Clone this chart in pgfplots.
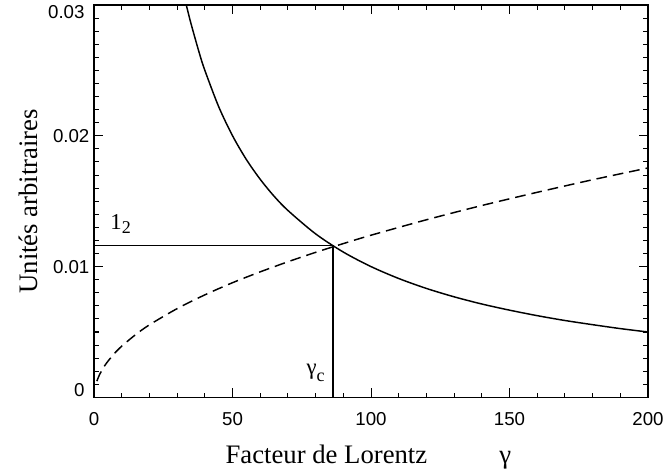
\documentclass[border=0pt]{standalone}
\usepackage{fontspec}
\setmainfont{Liberation Serif}
\newfontfamily\ticksfont{Liberation Sans}
\usepackage{pgfplots}
\pgfplotsset{compat=1.18}

% main glyph, subscript, drop of the subscript
\newcommand{\annot}[3]{\fontsize{17}{17}\selectfont #1\raisebox{-#3}{\fontsize{13.5}{13.5}\selectfont #2}}

\begin{document}
\begin{tikzpicture}
\begin{axis}[
    name=ax,
    scale only axis,
    width=415pt, height=294pt,
    xmin=0, xmax=200, ymin=0, ymax=0.03,
    xtick={0,50,100,150,200},
    minor x tick num=4,
    ytick={0,0.01,0.02,0.03},
    yticklabels={,0.01,0.02,},
    minor y tick num=9,
    scaled y ticks=false,
    tick align=inside,
    tick pos=both,
    major tick length=7pt,
    minor tick length=3.5pt,
    tick style={black, line width=0.8pt},
    axis line style={line width=1.3pt},
    /pgf/number format/assume math mode=true,
    tick label style={font=\ticksfont\fontsize{14}{14}\selectfont},
    xticklabel style={yshift=-7.5pt},
    xlabel={Facteur de Lorentz\hspace{2.7em}γ},
    ylabel={Unités arbitraires},
    label style={font=\fontsize{20}{20}\selectfont},
    xlabel style={yshift=-7.5pt, xshift=-2pt},
    ylabel style={yshift=4.7pt},
    clip=false,
]
% solid: decreasing curve
\addplot[black, line width=1.1pt, smooth] coordinates {
(33.3,0.0300) (35,0.02857) (38,0.02632) (40,0.0250) (45,0.02222)
(50,0.0200) (55,0.01818) (60,0.01667) (65,0.01538) (70,0.01429)
(80,0.0125) (90,0.01111) (100,0.0100) (110,0.00909) (120,0.00833)
(130,0.00769) (140,0.00714) (150,0.00667) (160,0.00625) (170,0.00588)
(180,0.00556) (190,0.00526) (200,0.0050)
};
% dashed: rising curve
\addplot[black, line width=1.1pt, dash pattern=on 8pt off 4.5pt, smooth] coordinates {
(1,0.00124) (2,0.00175) (4,0.00248) (7,0.00328) (10,0.00392) (15,0.00480)
(20,0.00555) (30,0.00679) (40,0.00784) (50,0.00877) (60,0.00960)
(70,0.01037) (80,0.01109) (90,0.01176) (100,0.01240) (120,0.01358)
(140,0.01467) (160,0.01568) (180,0.01664) (200,0.01754)
};
% guide lines at the crossing
\addplot[black, line width=1.1pt] coordinates {(0,0.01163) (86.3,0.01163) (86.3,0)};
\node[anchor=base west, inner sep=0pt] at (axis cs:5.8,0.01286) {\annot{1}{2}{3pt}};
\node[anchor=base east, inner sep=0pt] at (axis cs:83.3,0.00172) {\annot{γ}{c}{5pt}};
% end labels of the y axis, set inside the axis range as in the original
\node[anchor=north east, inner sep=0pt, font=\ticksfont\fontsize{14}{14}\selectfont] at ([xshift=-7pt]axis cs:0,0.03) {0.03};
\node[anchor=south east, inner sep=0pt, font=\ticksfont\fontsize{14}{14}\selectfont] at ([xshift=-7pt]axis cs:0,0) {0};
\end{axis}
\pgfresetboundingbox
\path ([xshift=-70.5pt,yshift=-58.5pt]ax.south west) rectangle ([xshift=12pt,yshift=3.75pt]ax.north east);
\end{tikzpicture}
\end{document}
